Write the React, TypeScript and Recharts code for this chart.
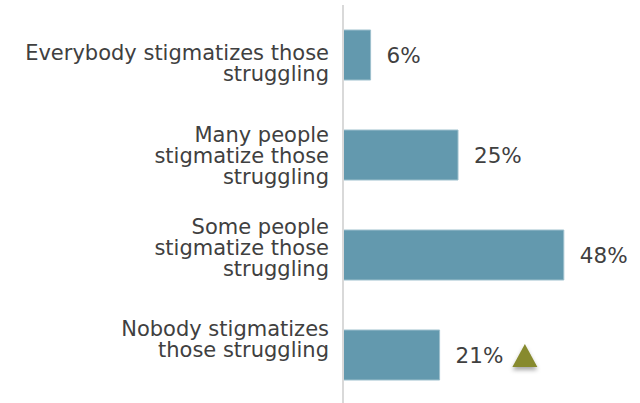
import React from 'react';
import { BarChart, Bar, XAxis, YAxis, LabelList } from 'recharts';

const categories = [
  'Everybody stigmatizes those\nstruggling',
  'Many people\nstigmatize those\nstruggling',
  'Some people\nstigmatize those\nstruggling',
  'Nobody stigmatizes\nthose struggling',
];
const values = [6, 25, 48, 21];
const significant = [false, false, false, true];

const data = categories.map((name, i) => ({ name, value: values[i] }));

const FONT = '"DejaVu Sans", Verdana, sans-serif';
const TEXT = '#404040';
const BAR = '#6399ae';
const MARK = '#878a2e';

const CategoryTick = (props: any) => {
  const { x, y, payload } = props;
  const lines = String(payload.value).split('\n');
  const n = lines.length;
  const lh = 21;
  return (
    <text x={x} y={y} textAnchor="end" fontFamily={FONT} fontSize={21} fill={TEXT}>
      {lines.map((l, i) => (
        <tspan key={i} x={x} y={y + (i - (n - 1) / 2) * lh + 7.5}>
          {l}
        </tspan>
      ))}
    </text>
  );
};

const ValueLabel = (props: any) => {
  const vb = props.viewBox && props.viewBox.width !== undefined ? props.viewBox : props;
  const { x, y, width, height } = vb;
  const { value, index } = props;
  const fs = 21.5;
  const tx = x + width + 16;
  const cy = y + height / 2;
  const str = `${value}%`;
  const digits = String(value).length;
  const textW = fs * (0.636 * digits + 0.95);
  const showMark = significant[index];
  const left = tx + textW + 9;
  return (
    <g>
      <text x={tx} y={cy + 7.8} fontFamily={FONT} fontSize={fs} fill={TEXT}>
        {str}
      </text>
      {showMark && (
        <g>
          <defs>
            <filter id="tri-shadow" x="-50%" y="-50%" width="200%" height="200%">
              <feDropShadow dx="0" dy="3" stdDeviation="2" floodColor="#000" floodOpacity="0.35" />
            </filter>
          </defs>
          <path
            d={`M${left + 12.5},${cy - 11} L${left + 25},${cy + 12} L${left},${cy + 12} Z`}
            fill={MARK}
            filter="url(#tri-shadow)"
          />
        </g>
      )}
    </g>
  );
};

export default function App() {
  return (
    <div style={{ position: 'absolute', left: 0, top: 0, background: '#fff' }}>
      <BarChart
        width={640}
        height={403}
        data={data}
        layout="vertical"
        margin={{ top: 5, right: 21, bottom: -2, left: 0 }}
        barCategoryGap={50}
      >
        <XAxis type="number" domain={[0, 60]} hide />
        <YAxis yAxisId="main" type="category" dataKey="name" hide />
        <YAxis
          yAxisId="lbl"
          type="category"
          dataKey="name"
          width={343}
          padding={{ top: 12, bottom: 20 }}
          axisLine={{ stroke: '#d9d9d9', strokeWidth: 2 }}
          tickLine={false}
          tickSize={0}
          tickMargin={14}
          tick={<CategoryTick />}
          interval={0}
        />
        <Bar
          yAxisId="main"
          dataKey="value"
          fill={BAR}
          stroke="#9ec0cd"
          strokeWidth={1}
          barSize={50}
          isAnimationActive={false}
        >
          <LabelList dataKey="value" content={<ValueLabel />} />
        </Bar>
      </BarChart>
    </div>
  );
}
